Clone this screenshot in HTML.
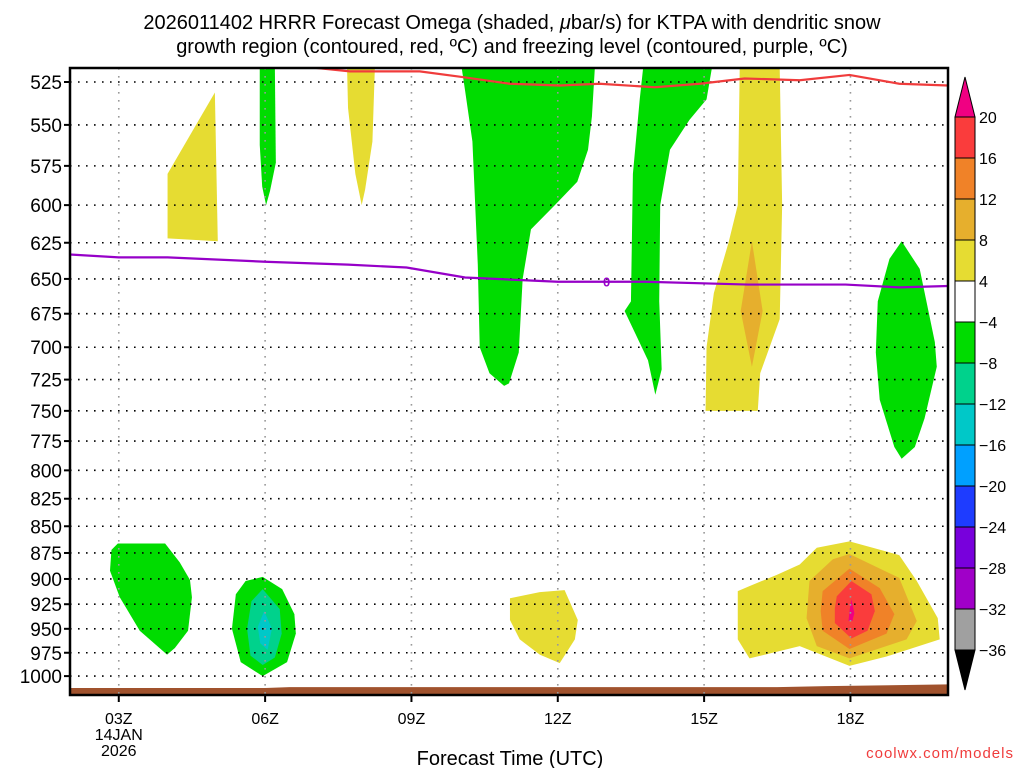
<!DOCTYPE html>
<html><head><meta charset="utf-8">
<style>
html,body{margin:0;padding:0;background:#fff;}
svg{display:block;font-family:"Liberation Sans","DejaVu Sans",sans-serif;}
</style></head>
<body>
<svg id="chart" width="1024" height="768" viewBox="0 0 1024 768" xmlns="http://www.w3.org/2000/svg">
<text x="512" y="29" font-size="20" text-anchor="middle">2026011402 HRRR Forecast Omega (shaded, <tspan font-style="italic">μ</tspan>bar/s) for KTPA with dendritic snow</text>
<text x="512" y="53" font-size="20" text-anchor="middle">growth region (contoured, red, ºC) and freezing level (contoured, purple, ºC)</text>
<g id="plot"></g>
<g id="cbar"></g>
<text x="510" y="765" font-size="20" text-anchor="middle">Forecast Time (UTC)</text>
<text x="1014" y="758" font-size="15" fill="#f03c3c" text-anchor="end" letter-spacing="1">coolwx.com/models</text>
</svg>
<script>
const pressureTicks=[525,550,575,600,625,650,675,700,725,750,775,800,825,850,875,900,925,950,975,1000];
const timeTicks=[3,6,9,12,15,18];
const timeLabels=["03Z","06Z","09Z","12Z","15Z","18Z"];
const cbLevels=["20","16","12","8","4","−4","−8","−12","−16","−20","−24","−28","−32","−36"];
const cbColors=["#fa3c3c","#f08228","#e6af2d","#e6dc32","#ffffff","#00dc00","#00d28c","#00c8c8","#00a0ff","#1e3cff","#7800dc","#a000c8","#a0a0a0"];
// shaded omega regions: [hour, pressure hPa]
const yellowTopLeft=[[4.0,580],[4.97,531],[5.03,624],[4.0,622]];
const greenNarrow06=[[5.89,517],[6.2,517],[6.22,573],[6.1,591],[6.02,600],[5.94,588],[5.89,562]];
const yellowNarrow08=[[7.68,517],[8.25,517],[8.2,560],[8.05,590],[7.98,600],[7.85,580],[7.7,540]];
const greenBig11=[[10.03,517],[12.76,517],[12.7,545],[12.62,565],[12.4,585],[11.94,600],[11.45,616],[11.28,650],[11.2,704],[11.0,728],[10.9,730],[10.6,720],[10.4,700],[10.36,640],[10.25,560],[10.1,530]];
const green14=[[13.75,517],[15.16,517],[15.05,535],[14.7,547],[14.3,565],[14.1,600],[14.08,666],[14.13,717],[14.0,737],[13.85,710],[13.37,673],[13.5,666],[13.54,580],[13.68,535]];
const yellow16=[[15.73,517],[16.55,517],[16.6,600],[16.55,679],[16.15,720],[16.1,750],[15.03,750],[15.05,700],[15.2,660],[15.5,625],[15.69,600]];
const orange16=[[15.98,624],[16.2,673],[15.98,715],[15.75,673]];
const green19=[[19.05,624],[19.42,643],[19.73,696],[19.77,715],[19.52,756],[19.32,780],[19.05,790],[18.9,780],[18.6,741],[18.52,704],[18.56,666],[18.8,636]];
const green03=[[2.98,866],[3.95,866],[4.25,884],[4.46,901],[4.5,918],[4.42,952],[4.15,970],[3.99,977],[3.43,952],[3.02,918],[2.82,892],[2.85,872]];
const green06=[[5.95,898],[6.35,910],[6.6,935],[6.63,955],[6.45,985],[5.95,1000],[5.5,985],[5.32,950],[5.4,915],[5.6,902]];
const teal06=[[5.95,910],[6.3,930],[6.34,955],[6.2,980],[5.95,988],[5.7,978],[5.63,950],[5.72,922]];
const cyan06=[[5.98,932],[6.14,950],[6.05,972],[5.9,965],[5.85,948]];
const yellow12=[[11.02,919],[11.63,913],[12.14,911],[12.41,941],[12.35,961],[12.04,986],[11.63,977],[11.22,961],[11.02,941]];
const yellow18=[[15.69,912],[15.69,961],[15.93,981],[16.96,968],[17.98,989],[18.74,979],[19.83,961],[19.79,939],[19.36,902],[19.0,877],[17.98,864],[17.31,870],[16.96,886],[16.49,896],[15.93,907]];
const dyellow18=[[17.16,902],[17.64,881],[17.98,876],[19.0,899],[19.36,942],[19.15,961],[17.98,981],[17.31,968],[17.1,939]];
const orange18=[[17.43,912],[17.98,890],[18.6,909],[18.9,935],[18.74,955],[17.98,971],[17.43,952],[17.39,932]];
const red18=[[17.72,917],[18.02,902],[18.43,915],[18.5,932],[18.35,952],[18.02,960],[17.68,944],[17.68,929]];
const magenta18=[[18.02,920],[18.08,934],[18.04,942],[17.96,942],[17.98,932]];
// contour lines
const dgzLine=[[7.02,517],[7.74,519],[9.17,519],[9.99,522],[11.02,526],[12.04,527],[12.86,526],[13.99,528],[14.91,526],[15.83,523],[16.96,524],[17.98,521],[19.0,526],[20,527]];
const freezeLine=[[2,633],[3,635],[4,635],[6,638],[7.7,640],[8.9,642],[10.1,649],[12,652],[13.8,652],[15.9,654],[17.9,654],[19,656],[20,655]];
const groundLine=[[2,1013],[6,1013],[6.5,1012],[16.5,1012],[17.5,1011],[20,1009]];

const NS="http://www.w3.org/2000/svg";
const X0=70,X1=948,Y0=68,Y1=695;
const H0=2,H1=20;
function xs(h){return X0+(h-H0)/(H1-H0)*(X1-X0);}
function ys(p){return 82+Math.log(p/525)*922;}
function mk(tag,attrs,parent){const e=document.createElementNS(NS,tag);for(const k in attrs)e.setAttribute(k,attrs[k]);parent.appendChild(e);return e;}
const plot=document.getElementById('plot');
const cbar=document.getElementById('cbar');
mk('clipPath',{id:'clip'},plot).appendChild(Object.assign(document.createElementNS(NS,'rect'),{}));
const cr=plot.querySelector('clipPath rect');cr.setAttribute('x',X0);cr.setAttribute('y',Y0);cr.setAttribute('width',X1-X0);cr.setAttribute('height',Y1-Y0);
const g=mk('g',{'clip-path':'url(#clip)'},plot);
function poly(pts,fill,name){
  const e=mk('polygon',{points:pts.map(p=>xs(p[0])+','+ys(p[1])).join(' '),fill:fill},g);
  
  
}
poly(yellowTopLeft,'#e6dc32','omega-yellow-0400z');
poly(greenNarrow06,'#00dc00','omega-green-0600z-upper');
poly(yellowNarrow08,'#e6dc32','omega-yellow-0800z');
poly(greenBig11,'#00dc00','omega-green-1100z');
poly(green14,'#00dc00','omega-green-1400z');
poly(yellow16,'#e6dc32','omega-yellow-1600z');
poly(orange16,'#e6af2d','omega-darkyellow-1600z');
poly(green19,'#00dc00','omega-green-1900z');
poly(green03,'#00dc00','omega-green-0300z');
poly(green06,'#00dc00','omega-green-0600z-lower');
poly(teal06,'#00d28c','omega-teal-0600z');
poly(cyan06,'#00c8c8','omega-cyan-0600z');
poly(yellow12,'#e6dc32','omega-yellow-1200z');
poly(yellow18,'#e6dc32','omega-yellow-1800z');
poly(dyellow18,'#e6af2d','omega-darkyellow-1800z');
poly(orange18,'#f08228','omega-orange-1800z');
poly(red18,'#fa3c3c','omega-red-1800z');
poly(magenta18,'#f00082','omega-magenta-1800z');
// ground
const gp=groundLine.map(p=>[p[0],p[1]]);
const gpts=gp.map(p=>xs(p[0])+','+ys(p[1])).join(' ')+' '+xs(20)+','+Y1+' '+xs(2)+','+Y1;
const ground=mk('polygon',{points:gpts,fill:'#a0522d'},g);


// gridlines
pressureTicks.forEach(p=>{
  const l=mk('line',{x1:X0,x2:X1,y1:ys(p),y2:ys(p),stroke:'#000','stroke-width':1.6,'stroke-dasharray':'1.6 6.4'},g);
  
  
  const t=mk('line',{x1:X0-6,x2:X0,y1:ys(p),y2:ys(p),stroke:'#000','stroke-width':2},plot);
  
  
  const lab=mk('text',{x:X0-8,y:ys(p)+7,'font-size':19,'text-anchor':'end'},plot);
  lab.textContent=p;
  
  
});
timeTicks.forEach((h,i)=>{
  const l=mk('line',{x1:xs(h),x2:xs(h),y1:Y0,y2:Y1,stroke:'#999','stroke-width':1.6,'stroke-dasharray':'1.6 6.4'},g);
  
  
  const t=mk('line',{x1:xs(h),x2:xs(h),y1:Y1,y2:Y1+7,stroke:'#000','stroke-width':2},plot);
  
  
  const lab=mk('text',{x:xs(h),y:724,'font-size':16,'text-anchor':'middle'},plot);
  lab.textContent=timeLabels[i];
  
  
});
const d1=mk('text',{x:xs(3),y:740,'font-size':16,'text-anchor':'middle'},plot);d1.textContent='14JAN';


const d2=mk('text',{x:xs(3),y:756,'font-size':16,'text-anchor':'middle'},plot);d2.textContent='2026';


// lines
function line(pts,color,name){
  const e=mk('polyline',{points:pts.map(p=>xs(p[0])+','+ys(p[1])).join(' '),fill:'none',stroke:color,'stroke-width':2.2},g);
  
  
}
line(dgzLine,'#f03c3c','dendritic-growth-contour');
line(freezeLine,'#9600c8','freezing-level-contour');
const fz=mk('text',{x:xs(13),y:ys(652)+5,'font-size':13,'text-anchor':'middle',fill:'#9600c8','font-weight':'bold'},plot);
fz.textContent='0';


const fr=mk('rect',{x:X0,y:Y0,width:X1-X0,height:Y1-Y0,fill:'none',stroke:'#000','stroke-width':2.5},plot);


// colorbar
const CX=955,CW=20,CT=100,step=(650-117)/13;
const tri=mk('polygon',{points:`${CX},${CT+17} ${CX+CW/2},${CT-23} ${CX+CW},${CT+17}`,fill:'#f00082',stroke:'#000','stroke-width':1},cbar);


cbColors.forEach((c,i)=>{
  const r=mk('rect',{x:CX,y:117+i*step,width:CW,height:step,fill:c,stroke:'#000','stroke-width':1},cbar);
  
  
});
const tri2=mk('polygon',{points:`${CX},650 ${CX+CW/2},690 ${CX+CW},650`,fill:'#000',stroke:'#000','stroke-width':1},cbar);


cbLevels.forEach((v,i)=>{
  const t=mk('text',{x:979,y:117+i*step+6,'font-size':16},cbar);
  t.textContent=v;
  
  
});
</script>
</body></html>
